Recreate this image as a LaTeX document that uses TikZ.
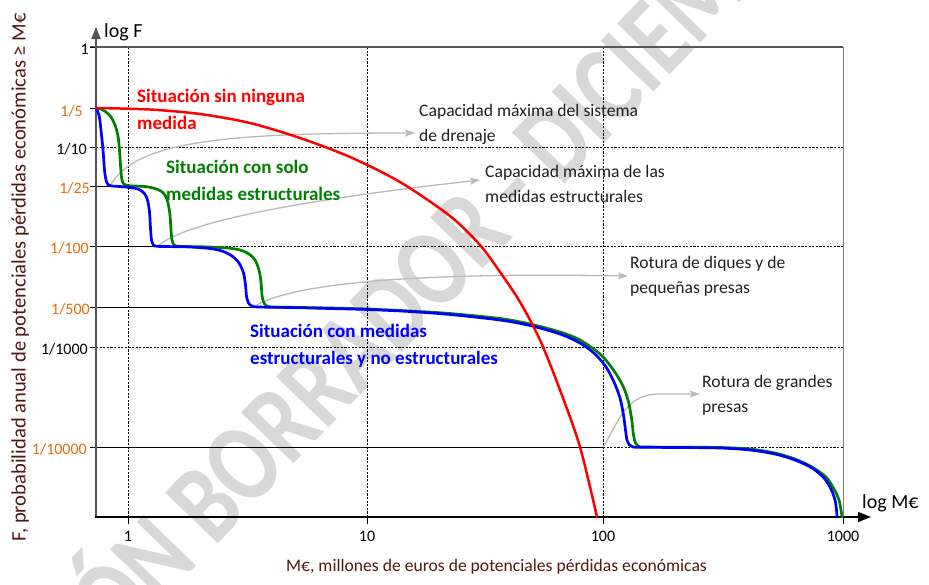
\documentclass[tikz,border=0pt]{standalone}
\usepackage{fontspec}
\setmainfont{Carlito}
\usetikzlibrary{arrows.meta}
\definecolor{tickorange}{RGB}{228,108,10}
\definecolor{axlab}{RGB}{80,25,20}
\definecolor{cred}{RGB}{255,0,0}
\definecolor{cgreen}{RGB}{0,128,0}
\definecolor{cblue}{RGB}{0,0,255}
\definecolor{annogray}{RGB}{185,185,185}
\definecolor{wmgray}{RGB}{216,216,216}
\definecolor{axisgray}{RGB}{85,85,85}
\begin{document}
\begin{tikzpicture}[x=1pt,y=-1pt,
  gridd/.style={black, line width=0.75pt, dash pattern=on 2.2pt off 1.4pt},
  grids/.style={black, line width=1pt},
  tk/.style={black, line width=0.9pt},
  ytk/.style={font=\fontsize{16}{19}\selectfont, inner sep=0pt, anchor=base east},
  xtk/.style={font=\fontsize{16}{19}\selectfont, inner sep=0pt, anchor=base},
  anno/.style={font=\fontsize{17.6}{21}\selectfont, text=black!88, inner sep=0pt, anchor=base west},
  blab/.style={font=\bfseries\fontsize{19}{23}\selectfont, inner sep=0pt, anchor=base west},
  crv/.style={line width=2.7pt, line join=round, line cap=round},
  pointer/.style={draw=annogray, line width=1.3pt, -{Stealth[length=10pt,width=7pt,inset=2pt]}},
  wm/.style={font=\bfseries\fontsize{94}{94}\selectfont, text=wmgray, inner sep=0pt}
]
\useasboundingbox (0,0) rectangle (929,584);

% watermark
\begin{scope}
\clip (0,0) rectangle (929,584);
\node[wm, rotate=46, anchor=base west] (wmark) at (-30,800) {\scalebox{0.95}[1.2]{VERSIÓN BORRADOR - DICIEMBRE}};
\end{scope}

% grid
\draw[gridd] (128,47) -- (128,517);
\draw[gridd] (367,47) -- (367,517);
\draw[gridd] (603,47) -- (603,517);
\draw[gridd] (96,147) -- (843,147);
\draw[gridd] (157,246) -- (843,246);
\draw[gridd] (96,347) -- (843,347);
\draw[gridd] (603,447) -- (843,447);
\draw[grids] (96,186) -- (110,186);
\draw[grids] (96,246) -- (157,246);
\draw[grids] (96,307) -- (258,307);
\draw[grids] (96,447) -- (603,447);

% frame
\draw[axisgray, line width=1.4pt] (90,47) -- (843,47);
\draw[gray, line width=1pt] (843,47) -- (843,517);

% ticks
\foreach \yy in {47,108,147,186,246,307,347,447} \draw[tk] (90,\yy) -- (96,\yy);
\foreach \xx in {128,367,603,843} \draw[tk] (\xx,517) -- (\xx,524);

% axes
\draw[axisgray, line width=1.8pt, -{Triangle[length=12pt,width=9pt]}] (96,517) -- (96,27);
\draw[black, line width=1.4pt, -{Triangle[length=13pt,width=10pt]}] (95,517) -- (871,517);

% tick labels
\node[ytk] (t1) at (89,54) {1};
\node[ytk, text=tickorange] (t5) at (83,116) {1/5};
\node[ytk] (t10) at (87,154) {1/10};
\node[ytk, text=tickorange] (t25) at (90,193) {1/25};
\node[ytk, text=tickorange] (t100) at (89,253) {1/100};
\node[ytk, text=tickorange] (t500) at (90,314) {1/500};
\node[ytk] (t1000) at (88,354) {1/1000};
\node[ytk, text=tickorange] (t10000) at (87,454) {1/10000};
\node[xtk] (x1) at (128,541) {1};
\node[xtk] (x10) at (367,541) {10};
\node[xtk] (x100) at (603,541) {100};
\node[xtk] (x1000) at (843,541) {1000};

% axis titles
\node[font=\fontsize{20}{24}\selectfont, inner sep=0pt, anchor=base west] (logF) at (104,37) {log F};
\node[font=\fontsize{20}{24}\selectfont, inner sep=0pt, anchor=base west] (logM) at (862,508) {log M€};
\node[font=\fontsize{17.6}{21}\selectfont, text=axlab, inner sep=0pt, anchor=base] (xlabel) at (496.5,571.5) {M€, millones de euros de potenciales pérdidas económicas};
\node[font=\fontsize{20.6}{24}\selectfont, text=axlab, inner sep=0pt, anchor=base, rotate=90] (ylabel) at (25.5,277) {F, probabilidad anual de potenciales pérdidas económicas ≥ M€};

% annotation pointers
\coordinate (a1s) at (110,186); \coordinate (a1e) at (415,133);
\coordinate (a2s) at (158,246); \coordinate (a2e) at (480,180);
\coordinate (a3s) at (255,306); \coordinate (a3e) at (628,276);
\coordinate (a4s) at (603,447); \coordinate (a4m) at (660,394); \coordinate (a4e) at (700,394);
\draw[pointer] (a1s) .. controls (135,140) and (230,133) .. (a1e);
\draw[pointer] (a2s) .. controls (185,222) and (300,200) .. (a2e);
\draw[pointer] (a3s) .. controls (290,285) and (400,272) .. (a3e);
\draw[pointer] (a4s) .. controls (620,420) and (625,394) .. (a4m) -- (a4e);

% annotation texts
\node[anno] (n1a) at (419,116) {Capacidad máxima del sistema};
\node[anno] (n1b) at (419,141) {de drenaje};
\node[anno] (n2a) at (485,177) {Capacidad máxima de las};
\node[anno] (n2b) at (485,202) {medidas estructurales};
\node[anno] (n3a) at (630,268) {Rotura de diques y de};
\node[anno] (n3b) at (630,293) {pequeñas presas};
\node[anno] (n4a) at (702,387) {Rotura de grandes};
\node[anno] (n4b) at (702,412) {presas};

% curves
\draw[crv, cgreen] plot[smooth, tension=0.5] coordinates {
(96,108) (101,109) (106,112) (111,117) (115,125) (118,136) (119.5,150) (120.5,165) (121.5,177) (123,183) (127,185.5) (135,186) (145,186.5) (153,188) (160,190.5) (165,195) (168,203) (170,215) (171,230) (172,240) (174,245) (178,246.3) (190,246.6) (210,247) (228,248) (240,250) (249,254) (255,260) (259,270) (261,282) (262,295) (263.5,302) (266,305.5) (271,307) (290,307.3) (330,308) (367,309) (410,311) (450,313.5) (500,318.5) (530,324) (560,332) (580,340) (600,354) (612,368) (622,384) (628,400) (631.5,418) (633.5,435) (635.5,443) (639,446.5) (645,447) (680,447.2) (720,447.5) (750,449) (775,453) (795,459) (812,467) (826,477) (834,489) (839,500) (841,510) (842,517)};
\draw[crv, cblue] plot[smooth, tension=0.5] coordinates {
(96,108) (99,115) (101,130) (103,150) (104.5,170) (106,180) (108,184.5) (112,186) (120,186.5) (130,187.5) (138,189) (144,193) (147.5,200) (149.5,212) (150.5,228) (151.5,240) (153.5,245) (157,246.3) (170,246.6) (190,247) (210,248.5) (222,251) (232,256) (239,263) (243.5,273) (245.5,285) (246.5,296) (248.5,303) (252,306) (258,307) (290,307.5) (330,308.5) (367,309.5) (410,311.5) (450,314.5) (500,320) (530,325.5) (560,334) (580,343) (595,354) (606,367) (614,382) (620,398) (623.5,415) (625.5,430) (627,440) (629.5,445) (633,447) (645,447.3) (680,447.5) (720,448) (750,450) (775,454) (795,460) (812,468) (824,478) (831,489) (835,500) (836.5,510) (837,517)};
\draw[crv, cred, line width=2.5pt] plot[smooth, tension=0.5] coordinates {
(96,108) (150,109.5) (200,114) (250,123) (300,138) (350,157) (400,182) (450,216) (480,245) (500,272) (520,302) (540,340) (560,390) (580,447) (597,517)};

% curve labels
\node[blab, text=cred] (r1) at (137,102) {Situación sin ninguna};
\node[blab, text=cred] (r2) at (137,129) {medida};
\node[blab, text=cgreen] (g1) at (166,173) {Situación con solo};
\node[blab, text=cgreen] (g2) at (166,200) {medidas estructurales};
\node[blab, text=cblue] (b1) at (250,337) {Situación con medidas};
\node[blab, text=cblue] (b2) at (250,364) {estructurales y no estructurales};
\end{tikzpicture}
\end{document}
